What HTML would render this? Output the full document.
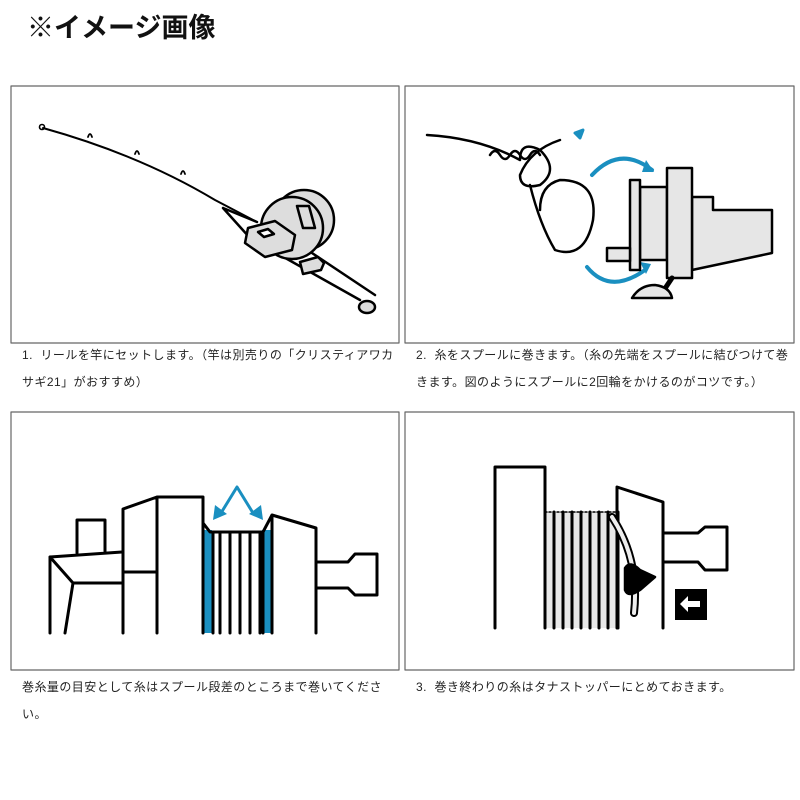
<!DOCTYPE html>
<html><head><meta charset="utf-8"><style>
body{margin:0;width:800px;height:800px;background:#fff;overflow:hidden;position:relative;font-family:"Liberation Sans","Noto Sans CJK JP",sans-serif}
.t{position:absolute;left:27px;top:6px;font-size:27px;font-weight:bold;color:#111;letter-spacing:0px}
.c{position:absolute;font-size:12px;line-height:27px;color:#222;width:376px;letter-spacing:0.45px}
svg{position:absolute;left:0;top:0}
</style></head><body>
<div class="t">※イメージ画像</div>
<div class="c" style="left:22px;top:342px">1.&nbsp; リールを竿にセットします。（竿は別売りの「クリスティアワカサギ21」がおすすめ）</div>
<div class="c" style="left:416px;top:342px">2.&nbsp; 糸をスプールに巻きます。（糸の先端をスプールに結びつけて巻きます。図のようにスプールに2回輪をかけるのがコツです。）</div>
<div class="c" style="left:22px;top:674px">巻糸量の目安として糸はスプール段差のところまで巻いてください。</div>
<div class="c" style="left:416px;top:674px">3.&nbsp; 巻き終わりの糸はタナストッパーにとめておきます。</div>
<svg width="800" height="800" viewBox="0 0 800 800" fill="none" stroke="#000" stroke-width="2.5" stroke-linejoin="round" stroke-linecap="round">
<g stroke="#666" stroke-width="1.2">
<rect x="11" y="86" width="388" height="257"/><rect x="405" y="86" width="389" height="257"/>
<rect x="11" y="412" width="388" height="258"/><rect x="405" y="412" width="389" height="258"/>
</g>
<!-- panel1 -->
<path d="M43,128 Q140,155 215,200 L257,222" stroke-width="2"/>
<circle cx="42" cy="127" r="2.5" stroke-width="1.6"/>
<path d="M88,137 q2,-6 4,0 M135,154 q2,-6 4,0 M181,174 q2,-6 4,0" stroke-width="1.8"/>
<path d="M223,208 L250,238 M223,208 L257,222"/>
<path d="M280,255 L360,300 M300,245 L375,295" />
<ellipse cx="367" cy="307" rx="8" ry="6" fill="#ddd"/>
<circle cx="304" cy="220" r="30" fill="#ddd"/>
<circle cx="292" cy="228" r="31" fill="#ddd"/>
<path d="M297,206 l12,0 l6,22 l-12,0z" fill="#ddd"/>
<path d="M248,228 l27,-7 l20,14 l-3,15 l-27,7 l-20,-14z" fill="#ddd"/>
<path d="M258,232 l10,-3 l6,5 l-10,3z" fill="#fff"/>
<path d="M300,262 l18,-5 l6,6 l-3,7 l-18,4z" fill="#ddd"/>
<!-- panel2 -->
<path d="M427,135 Q480,138 520,160 Q520,140 540,150 Q560,170 540,185 Q520,190 520,175 Q530,150 560,140" stroke-width="2.5"/>
<path d="M490,155 q5,-8 10,0 q5,8 10,0 q5,-8 10,0 q5,8 10,0 q5,-8 10,0" stroke-width="2.5"/>
<path d="M530,185 Q540,225 555,250 Q585,260 593,220 Q598,180 560,180 Q540,185 540,210" stroke-width="2.5"/>
<path d="M575,133 l8,-3 l-3,8z" fill="#1a8fc0" stroke="#1a8fc0" stroke-width="3"/>
<path d="M592,175 Q620,145 652,170" stroke="#1a8fc0" stroke-width="4"/>
<path d="M646,160 l8,12 l-12,0z" fill="#1a8fc0" stroke="none"/>
<path d="M587,267 Q610,295 645,270" stroke="#1a8fc0" stroke-width="4"/>
<path d="M640,262 l11,2 l-5,10z" fill="#1a8fc0" stroke="none"/>
<path d="M692,197 L713,197 L713,210 L772,210 L772,253 L692,270z" fill="#e6e6e6"/>
<rect x="640" y="187" width="27" height="73" fill="#e6e6e6"/>
<rect x="667" y="168" width="25" height="110" fill="#e6e6e6"/>
<rect x="630" y="180" width="10" height="90" fill="#e6e6e6"/>
<rect x="607" y="248" width="23" height="13" fill="#e6e6e6"/>
<path d="M672,278 L662,293" stroke-width="5"/>
<path d="M632,298 Q640,285 655,285 Q670,287 672,298z" fill="#e6e6e6"/>
<!-- panel3 -->
<rect x="203" y="530" width="9" height="103" fill="#1a8fc0" stroke="none"/>
<rect x="262" y="530" width="9" height="103" fill="#1a8fc0" stroke="none"/>
<g stroke-width="3">
<path d="M50,633 L50,557 L122,552 M50,557 L73,583 L122,583 M73,583 L65,633 M77,553 L77,520 L105,520 L105,553"/>
<path d="M123,633 L123,509 L157,497 L203,497 L203,523 L210,532 L263,532 L272,515 L316,528 L316,633 M123,572 L157,572 M157,497 L157,633 M203,523 L203,633 M272,515 L272,633"/>
<path d="M220,532 V633 M230,532 V633 M240,532 V633 M250,532 V633 M260,532 V633 M213,532 V633 M263,532 V633"/>
<path d="M316,562 L348,562 L355,554 L377,554 L377,595 L355,595 L348,588 L316,588"/>
</g>
<path d="M221,513 L237,487 L253,513" stroke="#1a8fc0" stroke-width="3"/>
<path d="M213,520 l2,-15 l12,9z M263,520 l-2,-15 l-12,9z" fill="#1a8fc0" stroke="none"/>
<!-- panel4 -->
<rect x="545" y="512" width="73" height="116" fill="#e8e8e8" stroke="none"/>
<g stroke-width="3">
<path d="M495,628 L495,467 L545,467 L545,628"/>
<path d="M554,512V628 M563,512V628 M572,512V628 M581,512V628 M590,512V628 M599,512V628 M608,512V628 M618,512V628"/>
<path d="M545,512 L617,512" stroke-width="1.5" stroke-dasharray="2 2"/>
<path d="M617,628 L617,487 L663,502 L663,628"/>
<path d="M663,533 L698,533 L705,527 L727,527 L727,570 L705,570 L698,562 L663,562"/>
</g>
<path d="M612,517 Q640,560 634,613" stroke="#000" stroke-width="8"/>
<path d="M612,517 Q640,560 634,613" stroke="#eee" stroke-width="4"/>
<path d="M625,568 Q630,560 640,570 L655,577 L640,590 Q628,598 625,590z" fill="#000"/>
<rect x="675" y="589" width="32" height="31" fill="#000" stroke="none"/>
<path d="M680,604 l8,-8 v5 h12 v6 h-12 v5z" fill="#fff" stroke="none"/>
</svg>
</body></html>
